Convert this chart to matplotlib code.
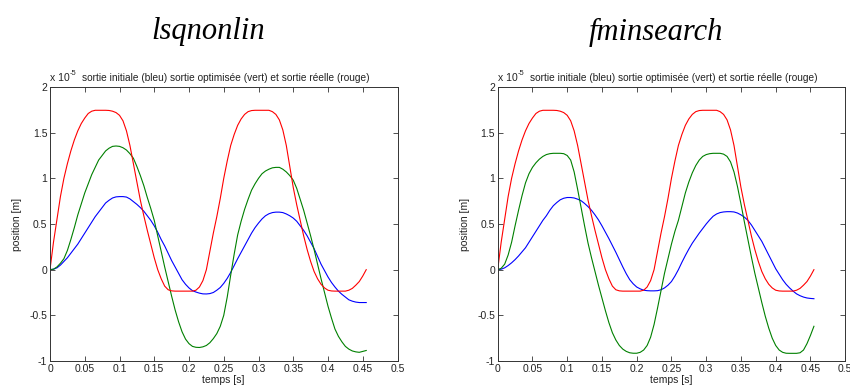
import numpy as np
import matplotlib
matplotlib.use("Agg")
from matplotlib import pyplot as plt
from matplotlib.transforms import offset_copy

# temps [s] : 0 a 0.455 s par pas de 5 ms
t = np.linspace(0.0, 0.455, 92)

# sortie reelle (rouge), x 1e-5 m, identique pour les deux methodes
red = [0.0, 0.30, 0.55, 0.80, 1.0, 1.16, 1.30, 1.42, 1.52, 1.60,
       1.66, 1.71, 1.735, 1.745, 1.745, 1.745, 1.745, 1.743, 1.735, 1.72,
       1.69, 1.63, 1.52, 1.36, 1.16, 0.96, 0.76, 0.59, 0.43, 0.28,
       0.13, 0.00, -0.10, -0.18, -0.22, -0.232, -0.235, -0.235, -0.235, -0.235,
       -0.235, -0.235, -0.225, -0.19, -0.12, 0.0, 0.20, 0.40, 0.58, 0.78,
       1.0, 1.19, 1.36, 1.48, 1.58, 1.65, 1.70, 1.73, 1.742, 1.745,
       1.745, 1.745, 1.745, 1.745, 1.73, 1.70, 1.64, 1.53, 1.36, 1.13,
       0.90, 0.71, 0.54, 0.37, 0.22, 0.09, -0.02, -0.10, -0.16, -0.20,
       -0.225, -0.233, -0.235, -0.235, -0.235, -0.235, -0.225, -0.205, -0.17, -0.13,
       -0.07, 0.0]

# lsqnonlin
green_lsq = [0.0, 0.005, 0.03, 0.07, 0.12, 0.21, 0.33, 0.46, 0.60, 0.72,
             0.84, 0.94, 1.04, 1.12, 1.20, 1.25, 1.30, 1.33, 1.35, 1.354,
             1.35, 1.335, 1.31, 1.27, 1.22, 1.13, 1.03, 0.92, 0.79, 0.67,
             0.54, 0.37, 0.20, 0.03, -0.13, -0.29, -0.44, -0.57, -0.68, -0.76,
             -0.81, -0.84, -0.85, -0.852, -0.845, -0.83, -0.80, -0.755, -0.70, -0.62,
             -0.50, -0.30, -0.06, 0.17, 0.38, 0.53, 0.66, 0.77, 0.87, 0.94,
             1.00, 1.05, 1.08, 1.10, 1.115, 1.12, 1.12, 1.10, 1.07, 1.03,
             0.98, 0.89, 0.77, 0.65, 0.51, 0.37, 0.22, 0.06, -0.10, -0.25,
             -0.40, -0.53, -0.65, -0.73, -0.79, -0.84, -0.87, -0.89, -0.90, -0.905,
             -0.895, -0.885]
blue_lsq = [0.0, 0.005, 0.02, 0.05, 0.09, 0.13, 0.18, 0.23, 0.28, 0.34,
            0.40, 0.46, 0.52, 0.58, 0.63, 0.68, 0.73, 0.76, 0.785, 0.797,
            0.80, 0.80, 0.795, 0.775, 0.745, 0.715, 0.68, 0.64, 0.59, 0.54,
            0.48, 0.41, 0.33, 0.26, 0.18, 0.10, 0.03, -0.04, -0.11, -0.16,
            -0.20, -0.23, -0.245, -0.257, -0.265, -0.266, -0.262, -0.25, -0.225, -0.195,
            -0.15, -0.095, -0.03, 0.045, 0.12, 0.19, 0.26, 0.33, 0.40, 0.46,
            0.51, 0.555, 0.59, 0.612, 0.625, 0.63, 0.63, 0.625, 0.61, 0.59,
            0.565, 0.53, 0.48, 0.43, 0.37, 0.30, 0.23, 0.145, 0.06, -0.01,
            -0.08, -0.14, -0.19, -0.235, -0.27, -0.30, -0.33, -0.345, -0.355, -0.36,
            -0.36, -0.36]

# fminsearch
green_fmin = [0.0, 0.015, 0.06, 0.16, 0.30, 0.48, 0.65, 0.81, 0.95, 1.05,
              1.12, 1.17, 1.21, 1.24, 1.26, 1.27, 1.274, 1.274, 1.274, 1.27,
              1.25, 1.20, 1.07, 0.88, 0.68, 0.48, 0.29, 0.13, -0.02, -0.17,
              -0.31, -0.45, -0.58, -0.69, -0.77, -0.83, -0.87, -0.895, -0.91, -0.915,
              -0.915, -0.905, -0.88, -0.83, -0.74, -0.60, -0.42, -0.23, -0.04, 0.12,
              0.28, 0.42, 0.54, 0.69, 0.84, 0.96, 1.06, 1.14, 1.20, 1.24,
              1.26, 1.27, 1.274, 1.274, 1.274, 1.265, 1.24, 1.18, 1.07, 0.91,
              0.72, 0.52, 0.33, 0.14, -0.04, -0.20, -0.36, -0.51, -0.64, -0.75,
              -0.83, -0.88, -0.905, -0.915, -0.916, -0.916, -0.916, -0.91, -0.88, -0.81,
              -0.72, -0.62]
blue_fmin = [0.0, 0.005, 0.02, 0.045, 0.075, 0.11, 0.15, 0.195, 0.24, 0.30,
             0.36, 0.42, 0.48, 0.54, 0.59, 0.65, 0.70, 0.735, 0.765, 0.782,
             0.79, 0.79, 0.785, 0.772, 0.755, 0.725, 0.69, 0.65, 0.60, 0.545,
             0.48, 0.41, 0.34, 0.265, 0.19, 0.11, 0.03, -0.045, -0.11, -0.155,
             -0.19, -0.21, -0.225, -0.23, -0.232, -0.232, -0.23, -0.22, -0.20, -0.17,
             -0.13, -0.07, 0.00, 0.08, 0.155, 0.225, 0.29, 0.345, 0.40, 0.45,
             0.50, 0.545, 0.585, 0.61, 0.625, 0.632, 0.635, 0.635, 0.632, 0.62,
             0.60, 0.575, 0.54, 0.49, 0.43, 0.37, 0.31, 0.235, 0.16, 0.085,
             0.01, -0.05, -0.11, -0.16, -0.20, -0.235, -0.265, -0.285, -0.30, -0.31,
             -0.315, -0.318]

methods = ["lsqnonlin", "fminsearch"]
xticks = [0, 0.05, 0.1, 0.15, 0.2, 0.25, 0.3, 0.35, 0.4, 0.45, 0.5]
xtick_labels = ["0", "0.05", "0.1", "0.15", "0.2", "0.25", "0.3", "0.35", "0.4", "0.45", "0.5"]
yticks = [-1, -0.5, 0, 0.5, 1, 1.5, 2]
ytick_labels = ["-1", "-0.5", "0", "0.5", "1", "1.5", "2"]
subtitle = "sortie initiale (bleu) sortie optimisée (vert) et sortie réelle (rouge)"


def main():
    plt.rcParams["font.family"] = ["Liberation Sans", "DejaVu Sans"]
    fig = plt.figure(figsize=(8.5, 3.9), dpi=100)

    panels = [(blue_lsq, green_lsq), (blue_fmin, green_fmin)]
    lefts = [50 / 850, 497.7 / 850]
    txt = "#222222"
    fs = 7.5

    for i, (blue, green) in enumerate(panels):
        ax = fig.add_axes([lefts[i], 29 / 390, 347.5 / 850, 274 / 390])
        ax.plot(t, blue, color="#0000ff", lw=0.8)
        ax.plot(t, green, color="#008000", lw=0.8)
        ax.plot(t, red, color="#ff0000", lw=0.8)

        ax.set_xlim(0, 0.5)
        ax.set_ylim(-1, 2)
        ax.set_xticks(xticks)
        ax.set_xticklabels(xtick_labels)
        ax.set_yticks(yticks)
        ax.set_yticklabels(ytick_labels)
        ax.tick_params(direction="in", length=3.5, width=0.6, labelsize=fs,
                       top=True, right=True, colors="#333333", labelcolor=txt, pad=2)
        for s in ax.spines.values():
            s.set_linewidth(0.7)
            s.set_color("#333333")

        ax.set_xlabel("temps [s]", fontsize=fs, color=txt, labelpad=1)
        ax.set_ylabel("position [m]", fontsize=fs, color=txt, labelpad=5)
        ax.set_title(subtitle, fontsize=7.3, color=txt, pad=4,
                     x=0.5 + 2 / 347.5)

        # facteur d'echelle a la MATLAB
        ax.text(0.0, 1.015, "x 10", transform=ax.transAxes,
                fontsize=fs, color=txt, ha="left", va="bottom")
        sup = offset_copy(ax.transAxes, fig=fig, x=14.5, y=4, units="points")
        ax.text(0.0, 1.015, "-5", transform=sup,
                fontsize=5.5, color=txt, ha="left", va="bottom")

        # titre de la methode
        cx = lefts[i] + 347.5 / 850 / 2 - 16 / 850
        fig.text(cx, 1 - 32 / 390, methods[i], fontsize=22, style="italic",
                 family="Liberation Serif", ha="center", va="center", color="black")

    fig.savefig("out.png", dpi=100)
    plt.close(fig)


if __name__ == "__main__":
    main()
